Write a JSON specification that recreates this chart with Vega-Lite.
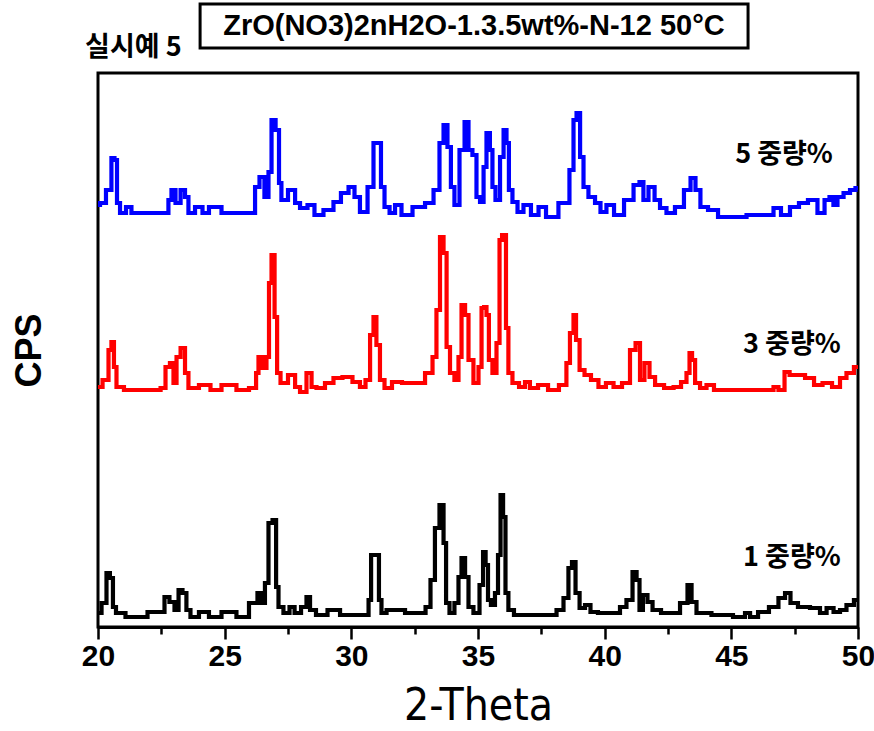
{
  "$schema": "https://vega.github.io/schema/vega-lite/v6.json",
  "width": 760,
  "height": 554,
  "autosize": {"type": "none"},
  "padding": {"left": 98, "top": 73, "right": 16, "bottom": 104},
  "background": "white",
  "config": {
    "view": {"stroke": "black", "strokeWidth": 3},
    "axisY": {
      "grid": false,
      "ticks": false,
      "labels": false,
      "domain": false,
      "titleFont": "Liberation Sans",
      "titleFontWeight": "bold",
      "titleFontSize": 36,
      "titleColor": "black",
      "titlePadding": 50
    }
  },
  "datasets": {
    "xrd": [
      {"series": "5 중량%", "theta": 20.00, "cps": 422},
      {"series": "5 중량%", "theta": 20.16, "cps": 424},
      {"series": "5 중량%", "theta": 20.47, "cps": 437},
      {"series": "5 중량%", "theta": 20.59, "cps": 469},
      {"series": "5 중량%", "theta": 20.71, "cps": 467},
      {"series": "5 중량%", "theta": 20.79, "cps": 424},
      {"series": "5 중량%", "theta": 20.95, "cps": 414},
      {"series": "5 중량%", "theta": 21.26, "cps": 420},
      {"series": "5 중량%", "theta": 21.38, "cps": 414},
      {"series": "5 중량%", "theta": 22.37, "cps": 414},
      {"series": "5 중량%", "theta": 22.72, "cps": 414},
      {"series": "5 중량%", "theta": 22.84, "cps": 427},
      {"series": "5 중량%", "theta": 22.96, "cps": 437},
      {"series": "5 중량%", "theta": 23.16, "cps": 424},
      {"series": "5 중량%", "theta": 23.36, "cps": 437},
      {"series": "5 중량%", "theta": 23.51, "cps": 430},
      {"series": "5 중량%", "theta": 23.63, "cps": 414},
      {"series": "5 중량%", "theta": 24.03, "cps": 420},
      {"series": "5 중량%", "theta": 24.22, "cps": 414},
      {"series": "5 중량%", "theta": 24.54, "cps": 420},
      {"series": "5 중량%", "theta": 25.21, "cps": 414},
      {"series": "5 중량%", "theta": 25.72, "cps": 414},
      {"series": "5 중량%", "theta": 26.12, "cps": 414},
      {"series": "5 중량%", "theta": 26.28, "cps": 440},
      {"series": "5 중량%", "theta": 26.47, "cps": 450},
      {"series": "5 중량%", "theta": 26.67, "cps": 430},
      {"series": "5 중량%", "theta": 26.79, "cps": 455},
      {"series": "5 중량%", "theta": 26.91, "cps": 507},
      {"series": "5 중량%", "theta": 27.11, "cps": 497},
      {"series": "5 중량%", "theta": 27.18, "cps": 444},
      {"series": "5 중량%", "theta": 27.30, "cps": 427},
      {"series": "5 중량%", "theta": 27.70, "cps": 437},
      {"series": "5 중량%", "theta": 27.86, "cps": 424},
      {"series": "5 중량%", "theta": 28.09, "cps": 419},
      {"series": "5 중량%", "theta": 28.45, "cps": 422},
      {"series": "5 중량%", "theta": 28.64, "cps": 412},
      {"series": "5 중량%", "theta": 29.16, "cps": 417},
      {"series": "5 중량%", "theta": 29.43, "cps": 425},
      {"series": "5 중량%", "theta": 29.75, "cps": 434},
      {"series": "5 중량%", "theta": 30.03, "cps": 440},
      {"series": "5 중량%", "theta": 30.22, "cps": 430},
      {"series": "5 중량%", "theta": 30.46, "cps": 415},
      {"series": "5 중량%", "theta": 30.82, "cps": 440},
      {"series": "5 중량%", "theta": 30.93, "cps": 484},
      {"series": "5 중량%", "theta": 31.13, "cps": 484},
      {"series": "5 중량%", "theta": 31.21, "cps": 440},
      {"series": "5 중량%", "theta": 31.41, "cps": 420},
      {"series": "5 중량%", "theta": 31.61, "cps": 414},
      {"series": "5 중량%", "theta": 31.84, "cps": 422},
      {"series": "5 중량%", "theta": 32.12, "cps": 412},
      {"series": "5 중량%", "theta": 32.71, "cps": 420},
      {"series": "5 중량%", "theta": 33.11, "cps": 424},
      {"series": "5 중량%", "theta": 33.38, "cps": 437},
      {"series": "5 중량%", "theta": 33.58, "cps": 484},
      {"series": "5 중량%", "theta": 33.70, "cps": 502},
      {"series": "5 중량%", "theta": 33.89, "cps": 480},
      {"series": "5 중량%", "theta": 33.97, "cps": 440},
      {"series": "5 중량%", "theta": 34.17, "cps": 422},
      {"series": "5 중량%", "theta": 34.37, "cps": 477},
      {"series": "5 중량%", "theta": 34.57, "cps": 505},
      {"series": "5 중량%", "theta": 34.68, "cps": 477},
      {"series": "5 중량%", "theta": 34.88, "cps": 472},
      {"series": "5 중량%", "theta": 35.00, "cps": 430},
      {"series": "5 중량%", "theta": 35.16, "cps": 425},
      {"series": "5 중량%", "theta": 35.28, "cps": 460},
      {"series": "5 중량%", "theta": 35.39, "cps": 494},
      {"series": "5 중량%", "theta": 35.55, "cps": 477},
      {"series": "5 중량%", "theta": 35.59, "cps": 440},
      {"series": "5 중량%", "theta": 35.79, "cps": 427},
      {"series": "5 중량%", "theta": 35.95, "cps": 470},
      {"series": "5 중량%", "theta": 36.07, "cps": 497},
      {"series": "5 중량%", "theta": 36.18, "cps": 484},
      {"series": "5 중량%", "theta": 36.26, "cps": 437},
      {"series": "5 중량%", "theta": 36.46, "cps": 425},
      {"series": "5 중량%", "theta": 36.66, "cps": 415},
      {"series": "5 중량%", "theta": 36.93, "cps": 422},
      {"series": "5 중량%", "theta": 37.25, "cps": 412},
      {"series": "5 중량%", "theta": 37.53, "cps": 420},
      {"series": "5 중량%", "theta": 37.84, "cps": 410},
      {"series": "5 중량%", "theta": 38.51, "cps": 424},
      {"series": "5 중량%", "theta": 38.71, "cps": 457},
      {"series": "5 중량%", "theta": 38.83, "cps": 507},
      {"series": "5 중량%", "theta": 38.95, "cps": 514},
      {"series": "5 중량%", "theta": 39.11, "cps": 470},
      {"series": "5 중량%", "theta": 39.22, "cps": 440},
      {"series": "5 중량%", "theta": 39.50, "cps": 430},
      {"series": "5 중량%", "theta": 39.74, "cps": 424},
      {"series": "5 중량%", "theta": 39.93, "cps": 415},
      {"series": "5 중량%", "theta": 40.21, "cps": 422},
      {"series": "5 중량%", "theta": 40.53, "cps": 412},
      {"series": "5 중량%", "theta": 41.00, "cps": 427},
      {"series": "5 중량%", "theta": 41.28, "cps": 442},
      {"series": "5 중량%", "theta": 41.47, "cps": 445},
      {"series": "5 중량%", "theta": 41.59, "cps": 427},
      {"series": "5 중량%", "theta": 41.87, "cps": 440},
      {"series": "5 중량%", "theta": 42.07, "cps": 427},
      {"series": "5 중량%", "theta": 42.30, "cps": 419},
      {"series": "5 중량%", "theta": 42.58, "cps": 414},
      {"series": "5 중량%", "theta": 42.97, "cps": 420},
      {"series": "5 중량%", "theta": 43.29, "cps": 437},
      {"series": "5 중량%", "theta": 43.49, "cps": 449},
      {"series": "5 중량%", "theta": 43.68, "cps": 437},
      {"series": "5 중량%", "theta": 43.88, "cps": 420},
      {"series": "5 중량%", "theta": 44.28, "cps": 417},
      {"series": "5 중량%", "theta": 44.67, "cps": 410},
      {"series": "5 중량%", "theta": 46.53, "cps": 412},
      {"series": "5 중량%", "theta": 46.80, "cps": 419},
      {"series": "5 중량%", "theta": 47.12, "cps": 412},
      {"series": "5 중량%", "theta": 47.51, "cps": 420},
      {"series": "5 중량%", "theta": 47.83, "cps": 424},
      {"series": "5 중량%", "theta": 48.22, "cps": 427},
      {"series": "5 중량%", "theta": 48.58, "cps": 414},
      {"series": "5 중량%", "theta": 48.78, "cps": 427},
      {"series": "5 중량%", "theta": 48.97, "cps": 430},
      {"series": "5 중량%", "theta": 49.09, "cps": 422},
      {"series": "5 중량%", "theta": 49.29, "cps": 430},
      {"series": "5 중량%", "theta": 49.57, "cps": 434},
      {"series": "5 중량%", "theta": 49.80, "cps": 437},
      {"series": "5 중량%", "theta": 50.00, "cps": 439},

      {"series": "3 중량%", "theta": 20.00, "cps": 240},
      {"series": "3 중량%", "theta": 20.36, "cps": 247},
      {"series": "3 중량%", "theta": 20.47, "cps": 277},
      {"series": "3 중량%", "theta": 20.59, "cps": 285},
      {"series": "3 중량%", "theta": 20.67, "cps": 260},
      {"series": "3 중량%", "theta": 20.79, "cps": 240},
      {"series": "3 중량%", "theta": 21.26, "cps": 237},
      {"series": "3 중량%", "theta": 22.37, "cps": 237},
      {"series": "3 중량%", "theta": 22.57, "cps": 239},
      {"series": "3 중량%", "theta": 22.76, "cps": 260},
      {"series": "3 중량%", "theta": 22.92, "cps": 264},
      {"series": "3 중량%", "theta": 23.04, "cps": 244},
      {"series": "3 중량%", "theta": 23.16, "cps": 270},
      {"series": "3 중량%", "theta": 23.36, "cps": 279},
      {"series": "3 중량%", "theta": 23.51, "cps": 254},
      {"series": "3 중량%", "theta": 23.63, "cps": 239},
      {"series": "3 중량%", "theta": 24.34, "cps": 242},
      {"series": "3 중량%", "theta": 24.54, "cps": 237},
      {"series": "3 중량%", "theta": 25.21, "cps": 242},
      {"series": "3 중량%", "theta": 25.72, "cps": 237},
      {"series": "3 중량%", "theta": 26.20, "cps": 239},
      {"series": "3 중량%", "theta": 26.28, "cps": 254},
      {"series": "3 중량%", "theta": 26.39, "cps": 270},
      {"series": "3 중량%", "theta": 26.59, "cps": 259},
      {"series": "3 중량%", "theta": 26.71, "cps": 270},
      {"series": "3 중량%", "theta": 26.79, "cps": 344},
      {"series": "3 중량%", "theta": 26.91, "cps": 372},
      {"series": "3 중량%", "theta": 27.03, "cps": 310},
      {"series": "3 중량%", "theta": 27.11, "cps": 254},
      {"series": "3 중량%", "theta": 27.30, "cps": 244},
      {"series": "3 중량%", "theta": 27.70, "cps": 252},
      {"series": "3 중량%", "theta": 27.86, "cps": 240},
      {"series": "3 중량%", "theta": 28.09, "cps": 235},
      {"series": "3 중량%", "theta": 28.37, "cps": 254},
      {"series": "3 중량%", "theta": 28.49, "cps": 240},
      {"series": "3 중량%", "theta": 28.76, "cps": 239},
      {"series": "3 중량%", "theta": 29.16, "cps": 244},
      {"series": "3 중량%", "theta": 29.43, "cps": 249},
      {"series": "3 중량%", "theta": 29.87, "cps": 250},
      {"series": "3 중량%", "theta": 30.22, "cps": 245},
      {"series": "3 중량%", "theta": 30.46, "cps": 240},
      {"series": "3 중량%", "theta": 30.66, "cps": 247},
      {"series": "3 중량%", "theta": 30.82, "cps": 292},
      {"series": "3 중량%", "theta": 30.93, "cps": 310},
      {"series": "3 중량%", "theta": 31.05, "cps": 282},
      {"series": "3 중량%", "theta": 31.21, "cps": 247},
      {"series": "3 중량%", "theta": 31.41, "cps": 239},
      {"series": "3 중량%", "theta": 31.80, "cps": 245},
      {"series": "3 중량%", "theta": 32.20, "cps": 244},
      {"series": "3 중량%", "theta": 32.71, "cps": 244},
      {"series": "3 중량%", "theta": 33.11, "cps": 254},
      {"series": "3 중량%", "theta": 33.30, "cps": 270},
      {"series": "3 중량%", "theta": 33.42, "cps": 317},
      {"series": "3 중량%", "theta": 33.58, "cps": 390},
      {"series": "3 중량%", "theta": 33.70, "cps": 374},
      {"series": "3 중량%", "theta": 33.82, "cps": 280},
      {"series": "3 중량%", "theta": 33.97, "cps": 254},
      {"series": "3 중량%", "theta": 34.17, "cps": 247},
      {"series": "3 중량%", "theta": 34.29, "cps": 270},
      {"series": "3 중량%", "theta": 34.41, "cps": 322},
      {"series": "3 중량%", "theta": 34.57, "cps": 312},
      {"series": "3 중량%", "theta": 34.68, "cps": 267},
      {"series": "3 중량%", "theta": 34.96, "cps": 244},
      {"series": "3 중량%", "theta": 35.08, "cps": 260},
      {"series": "3 중량%", "theta": 35.20, "cps": 319},
      {"series": "3 중량%", "theta": 35.28, "cps": 320},
      {"series": "3 중량%", "theta": 35.39, "cps": 312},
      {"series": "3 중량%", "theta": 35.47, "cps": 267},
      {"series": "3 중량%", "theta": 35.67, "cps": 254},
      {"series": "3 중량%", "theta": 35.79, "cps": 284},
      {"series": "3 중량%", "theta": 35.91, "cps": 387},
      {"series": "3 중량%", "theta": 35.99, "cps": 392},
      {"series": "3 중량%", "theta": 36.07, "cps": 392},
      {"series": "3 중량%", "theta": 36.14, "cps": 299},
      {"series": "3 중량%", "theta": 36.26, "cps": 254},
      {"series": "3 중량%", "theta": 36.46, "cps": 244},
      {"series": "3 중량%", "theta": 36.78, "cps": 240},
      {"series": "3 중량%", "theta": 36.93, "cps": 245},
      {"series": "3 중량%", "theta": 37.17, "cps": 239},
      {"series": "3 중량%", "theta": 37.57, "cps": 242},
      {"series": "3 중량%", "theta": 37.96, "cps": 237},
      {"series": "3 중량%", "theta": 38.43, "cps": 242},
      {"series": "3 중량%", "theta": 38.55, "cps": 264},
      {"series": "3 중량%", "theta": 38.71, "cps": 294},
      {"series": "3 중량%", "theta": 38.83, "cps": 312},
      {"series": "3 중량%", "theta": 38.91, "cps": 287},
      {"series": "3 중량%", "theta": 39.11, "cps": 257},
      {"series": "3 중량%", "theta": 39.30, "cps": 252},
      {"series": "3 중량%", "theta": 39.62, "cps": 247},
      {"series": "3 중량%", "theta": 39.89, "cps": 240},
      {"series": "3 중량%", "theta": 40.21, "cps": 244},
      {"series": "3 중량%", "theta": 40.49, "cps": 240},
      {"series": "3 중량%", "theta": 40.88, "cps": 244},
      {"series": "3 중량%", "theta": 41.12, "cps": 277},
      {"series": "3 중량%", "theta": 41.32, "cps": 284},
      {"series": "3 중량%", "theta": 41.47, "cps": 247},
      {"series": "3 중량%", "theta": 41.67, "cps": 264},
      {"series": "3 중량%", "theta": 41.87, "cps": 250},
      {"series": "3 중량%", "theta": 42.11, "cps": 242},
      {"series": "3 중량%", "theta": 42.58, "cps": 239},
      {"series": "3 중량%", "theta": 42.86, "cps": 240},
      {"series": "3 중량%", "theta": 43.17, "cps": 245},
      {"series": "3 중량%", "theta": 43.29, "cps": 254},
      {"series": "3 중량%", "theta": 43.41, "cps": 274},
      {"series": "3 중량%", "theta": 43.49, "cps": 267},
      {"series": "3 중량%", "theta": 43.65, "cps": 244},
      {"series": "3 중량%", "theta": 43.88, "cps": 239},
      {"series": "3 중량%", "theta": 44.16, "cps": 242},
      {"series": "3 중량%", "theta": 44.47, "cps": 237},
      {"series": "3 중량%", "theta": 46.61, "cps": 237},
      {"series": "3 중량%", "theta": 46.72, "cps": 240},
      {"series": "3 중량%", "theta": 47.00, "cps": 237},
      {"series": "3 중량%", "theta": 47.20, "cps": 255},
      {"series": "3 중량%", "theta": 47.40, "cps": 252},
      {"series": "3 중량%", "theta": 47.71, "cps": 252},
      {"series": "3 중량%", "theta": 48.11, "cps": 249},
      {"series": "3 중량%", "theta": 48.42, "cps": 242},
      {"series": "3 중량%", "theta": 48.78, "cps": 244},
      {"series": "3 중량%", "theta": 49.17, "cps": 240},
      {"series": "3 중량%", "theta": 49.41, "cps": 249},
      {"series": "3 중량%", "theta": 49.68, "cps": 254},
      {"series": "3 중량%", "theta": 50.00, "cps": 260},

      {"series": "1 중량%", "theta": 20.00, "cps": 14},
      {"series": "1 중량%", "theta": 20.28, "cps": 24},
      {"series": "1 중량%", "theta": 20.39, "cps": 54},
      {"series": "1 중량%", "theta": 20.55, "cps": 49},
      {"series": "1 중량%", "theta": 20.63, "cps": 20},
      {"series": "1 중량%", "theta": 20.79, "cps": 14},
      {"series": "1 중량%", "theta": 21.38, "cps": 10},
      {"series": "1 중량%", "theta": 22.53, "cps": 15},
      {"series": "1 중량%", "theta": 22.72, "cps": 30},
      {"series": "1 중량%", "theta": 22.92, "cps": 25},
      {"series": "1 중량%", "theta": 23.12, "cps": 17},
      {"series": "1 중량%", "theta": 23.24, "cps": 37},
      {"series": "1 중량%", "theta": 23.43, "cps": 34},
      {"series": "1 중량%", "theta": 23.55, "cps": 17},
      {"series": "1 중량%", "theta": 23.75, "cps": 10},
      {"series": "1 중량%", "theta": 24.22, "cps": 15},
      {"series": "1 중량%", "theta": 24.54, "cps": 10},
      {"series": "1 중량%", "theta": 25.21, "cps": 15},
      {"series": "1 중량%", "theta": 25.72, "cps": 10},
      {"series": "1 중량%", "theta": 26.20, "cps": 24},
      {"series": "1 중량%", "theta": 26.39, "cps": 34},
      {"series": "1 중량%", "theta": 26.51, "cps": 24},
      {"series": "1 중량%", "theta": 26.67, "cps": 44},
      {"series": "1 중량%", "theta": 26.79, "cps": 104},
      {"series": "1 중량%", "theta": 26.99, "cps": 107},
      {"series": "1 중량%", "theta": 27.07, "cps": 40},
      {"series": "1 중량%", "theta": 27.18, "cps": 20},
      {"series": "1 중량%", "theta": 27.46, "cps": 14},
      {"series": "1 중량%", "theta": 27.66, "cps": 20},
      {"series": "1 중량%", "theta": 27.86, "cps": 14},
      {"series": "1 중량%", "theta": 28.17, "cps": 20},
      {"series": "1 중량%", "theta": 28.29, "cps": 30},
      {"series": "1 중량%", "theta": 28.45, "cps": 17},
      {"series": "1 중량%", "theta": 28.76, "cps": 12},
      {"series": "1 중량%", "theta": 29.36, "cps": 17},
      {"series": "1 중량%", "theta": 29.75, "cps": 12},
      {"series": "1 중량%", "theta": 30.62, "cps": 12},
      {"series": "1 중량%", "theta": 30.74, "cps": 27},
      {"series": "1 중량%", "theta": 30.82, "cps": 72},
      {"series": "1 중량%", "theta": 31.05, "cps": 72},
      {"series": "1 중량%", "theta": 31.13, "cps": 27},
      {"series": "1 중량%", "theta": 31.25, "cps": 14},
      {"series": "1 중량%", "theta": 31.53, "cps": 17},
      {"series": "1 중량%", "theta": 31.92, "cps": 17},
      {"series": "1 중량%", "theta": 32.32, "cps": 14},
      {"series": "1 중량%", "theta": 32.83, "cps": 14},
      {"series": "1 중량%", "theta": 33.03, "cps": 20},
      {"series": "1 중량%", "theta": 33.22, "cps": 47},
      {"series": "1 중량%", "theta": 33.38, "cps": 99},
      {"series": "1 중량%", "theta": 33.58, "cps": 122},
      {"series": "1 중량%", "theta": 33.70, "cps": 84},
      {"series": "1 중량%", "theta": 33.78, "cps": 24},
      {"series": "1 중량%", "theta": 33.97, "cps": 14},
      {"series": "1 중량%", "theta": 34.17, "cps": 24},
      {"series": "1 중량%", "theta": 34.29, "cps": 50},
      {"series": "1 중량%", "theta": 34.41, "cps": 69},
      {"series": "1 중량%", "theta": 34.57, "cps": 50},
      {"series": "1 중량%", "theta": 34.68, "cps": 20},
      {"series": "1 중량%", "theta": 34.96, "cps": 14},
      {"series": "1 중량%", "theta": 35.16, "cps": 42},
      {"series": "1 중량%", "theta": 35.24, "cps": 75},
      {"series": "1 중량%", "theta": 35.36, "cps": 62},
      {"series": "1 중량%", "theta": 35.43, "cps": 27},
      {"series": "1 중량%", "theta": 35.59, "cps": 22},
      {"series": "1 중량%", "theta": 35.75, "cps": 34},
      {"series": "1 중량%", "theta": 35.83, "cps": 72},
      {"series": "1 중량%", "theta": 35.95, "cps": 132},
      {"series": "1 중량%", "theta": 36.03, "cps": 110},
      {"series": "1 중량%", "theta": 36.14, "cps": 34},
      {"series": "1 중량%", "theta": 36.26, "cps": 17},
      {"series": "1 중량%", "theta": 36.58, "cps": 12},
      {"series": "1 중량%", "theta": 37.96, "cps": 12},
      {"series": "1 중량%", "theta": 38.24, "cps": 17},
      {"series": "1 중량%", "theta": 38.51, "cps": 29},
      {"series": "1 중량%", "theta": 38.63, "cps": 59},
      {"series": "1 중량%", "theta": 38.79, "cps": 65},
      {"series": "1 중량%", "theta": 38.91, "cps": 34},
      {"series": "1 중량%", "theta": 39.11, "cps": 19},
      {"series": "1 중량%", "theta": 39.34, "cps": 22},
      {"series": "1 중량%", "theta": 39.54, "cps": 15},
      {"series": "1 중량%", "theta": 39.93, "cps": 14},
      {"series": "1 중량%", "theta": 40.49, "cps": 14},
      {"series": "1 중량%", "theta": 40.72, "cps": 20},
      {"series": "1 중량%", "theta": 41.00, "cps": 27},
      {"series": "1 중량%", "theta": 41.20, "cps": 55},
      {"series": "1 중량%", "theta": 41.32, "cps": 47},
      {"series": "1 중량%", "theta": 41.43, "cps": 17},
      {"series": "1 중량%", "theta": 41.59, "cps": 32},
      {"series": "1 중량%", "theta": 41.79, "cps": 25},
      {"series": "1 중량%", "theta": 41.99, "cps": 17},
      {"series": "1 중량%", "theta": 42.46, "cps": 14},
      {"series": "1 중량%", "theta": 42.78, "cps": 14},
      {"series": "1 중량%", "theta": 43.17, "cps": 24},
      {"series": "1 중량%", "theta": 43.37, "cps": 42},
      {"series": "1 중량%", "theta": 43.49, "cps": 25},
      {"series": "1 중량%", "theta": 43.76, "cps": 14},
      {"series": "1 중량%", "theta": 44.67, "cps": 12},
      {"series": "1 중량%", "theta": 45.46, "cps": 10},
      {"series": "1 중량%", "theta": 45.62, "cps": 14},
      {"series": "1 중량%", "theta": 45.86, "cps": 10},
      {"series": "1 중량%", "theta": 46.25, "cps": 15},
      {"series": "1 중량%", "theta": 46.72, "cps": 20},
      {"series": "1 중량%", "theta": 47.00, "cps": 29},
      {"series": "1 중량%", "theta": 47.24, "cps": 34},
      {"series": "1 중량%", "theta": 47.43, "cps": 24},
      {"series": "1 중량%", "theta": 47.83, "cps": 20},
      {"series": "1 중량%", "theta": 48.38, "cps": 19},
      {"series": "1 중량%", "theta": 48.62, "cps": 14},
      {"series": "1 중량%", "theta": 48.90, "cps": 19},
      {"series": "1 중량%", "theta": 49.17, "cps": 15},
      {"series": "1 중량%", "theta": 49.41, "cps": 17},
      {"series": "1 중량%", "theta": 49.68, "cps": 22},
      {"series": "1 중량%", "theta": 50.00, "cps": 27}
    ],
    "labels": [
      {"label": "5 중량%", "theta": 45.15, "cps": 472},
      {"label": "3 중량%", "theta": 45.46, "cps": 282},
      {"label": "1 중량%", "theta": 45.46, "cps": 69}
    ],
    "box": [
      {"theta": 24.03, "theta2": 45.66, "cps": 579, "cps2": 623}
    ],
    "heading": [
      {"text": "ZrO(NO3)2nH2O-1.3.5wt%-N-12 50°C", "theta": 34.84, "cps": 601}
    ],
    "example": [
      {"text": "실시예 5", "theta": 19.49, "cps": 579}
    ]
  },
  "layer": [
    {
      "data": {"name": "xrd"},
      "mark": {"type": "line", "strokeWidth": 4.2, "clip": true, "interpolate": "step", "strokeJoin": "miter"},
      "encoding": {
        "x": {
          "field": "theta", "type": "quantitative", "title": "2-Theta",
          "scale": {"domain": [20, 50], "nice": false, "zero": false},
          "axis": {
            "values": [20, 22.5, 25, 27.5, 30, 32.5, 35, 37.5, 40, 42.5, 45, 47.5, 50],
            "labelExpr": "datum.value % 5 === 0 ? datum.label : ''",
            "grid": false,
            "domainColor": "black",
            "domainWidth": 3,
            "tickColor": "black",
            "tickWidth": 2.5,
            "tickSize": {"condition": {"test": "datum.value % 5 === 0", "value": 12}, "value": 7},
            "labelFont": "Liberation Sans",
            "labelFontWeight": "bold",
            "labelFontSize": 30,
            "labelColor": "black",
            "labelPadding": 2,
            "labelFlush": false,
            "labelOverlap": false,
            "titleFont": "Liberation Sans Narrow, DejaVu Sans Condensed, sans-serif",
            "titleFontSize": 44,
            "titleFontWeight": "normal",
            "titleColor": "black",
            "titleBaseline": "alphabetic",
            "titleY": 92
          }
        },
        "y": {"field": "cps", "type": "quantitative", "title": "CPS", "scale": {"domain": [0, 554], "nice": false, "zero": false}},
        "color": {"field": "series", "type": "nominal", "legend": null, "scale": {"domain": ["5 중량%", "3 중량%", "1 중량%"], "range": ["#0000ff", "#ff0000", "#000000"]}},
        "order": {"field": "theta", "type": "quantitative"}
      }
    },
    {
      "data": {"name": "labels"},
      "mark": {"type": "text", "align": "left", "baseline": "middle", "font": "Noto Sans CJK KR", "fontWeight": "bold", "fontSize": 27, "color": "black", "clip": false},
      "encoding": {
        "x": {"field": "theta", "type": "quantitative", "title": "2-Theta"},
        "y": {"field": "cps", "type": "quantitative", "title": "CPS"},
        "text": {"field": "label"}
      }
    },
    {
      "data": {"name": "box"},
      "mark": {"type": "rect", "fill": "white", "stroke": "black", "strokeWidth": 3, "clip": false},
      "encoding": {
        "x": {"field": "theta", "type": "quantitative", "title": "2-Theta"},
        "x2": {"field": "theta2"},
        "y": {"field": "cps", "type": "quantitative", "title": "CPS"},
        "y2": {"field": "cps2"}
      }
    },
    {
      "data": {"name": "heading"},
      "mark": {"type": "text", "align": "center", "baseline": "middle", "font": "Liberation Sans", "fontWeight": "bold", "fontSize": 29, "color": "black", "clip": false},
      "encoding": {
        "x": {"field": "theta", "type": "quantitative", "title": "2-Theta"},
        "y": {"field": "cps", "type": "quantitative", "title": "CPS"},
        "text": {"field": "text"}
      }
    },
    {
      "data": {"name": "example"},
      "mark": {"type": "text", "align": "left", "baseline": "middle", "font": "Noto Sans CJK KR", "fontWeight": "bold", "fontSize": 27, "color": "black", "clip": false},
      "encoding": {
        "x": {"field": "theta", "type": "quantitative", "title": "2-Theta"},
        "y": {"field": "cps", "type": "quantitative", "title": "CPS"},
        "text": {"field": "text"}
      }
    }
  ]
}
